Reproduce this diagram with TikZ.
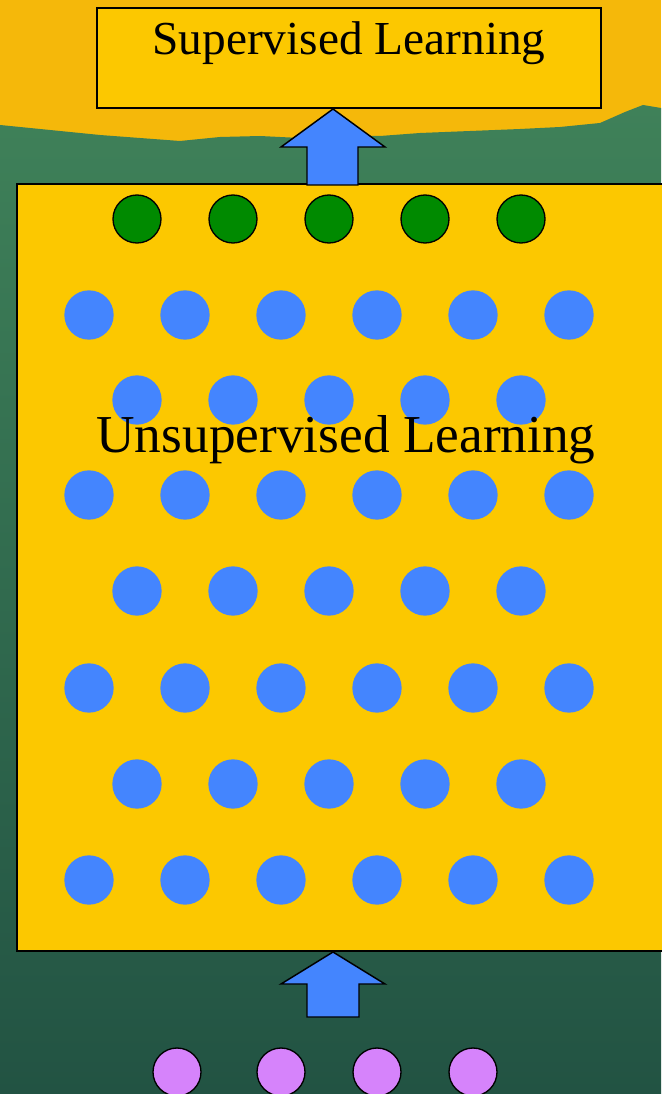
\documentclass[tikz,border=0pt]{standalone}
\usepackage{fontspec}
\setmainfont{Liberation Serif}
\usetikzlibrary{positioning}
\definecolor{bgorange}{HTML}{F5B80A}
\definecolor{bgtop}{HTML}{3F8159}
\definecolor{bgbottom}{HTML}{225343}
\definecolor{boxyellow}{HTML}{FCC800}
\definecolor{dotblue}{HTML}{4485FE}
\definecolor{dotgreen}{HTML}{008A00}
\definecolor{dotpurple}{HTML}{D683FB}
\tikzset{
  layerbox/.style={draw=black, line width=1.1pt, fill=boxyellow, inner sep=0pt},
  hiddendot/.style={circle, fill=dotblue, minimum size=37pt, inner sep=0pt},
  outdot/.style={circle, draw=black, line width=1pt, fill=dotgreen, minimum size=36pt, inner sep=0pt},
  indot/.style={outdot, fill=dotpurple},
  fatarrow/.style={draw=black, line width=1.1pt, fill=dotblue, line join=miter}
}
\begin{document}
\begin{tikzpicture}[x=0.75pt,y=-0.75pt]
\useasboundingbox (0,0) rectangle (661,1094);
% background
\fill[bgorange] (0,0) rectangle (661,160);
\shade[top color=bgtop, bottom color=bgbottom] (0,125) -- (30,128) -- (60,131) -- (100,135) -- (140,138) -- (180,141)
  -- (220,137) -- (260,136) -- (300,138) -- (340,135) -- (380,136) -- (420,133) -- (470,131) -- (520,129)
  -- (560,127) -- (600,123) -- (625,112) -- (643,105) -- (661,108) -- (661,1094) -- (0,1094) -- cycle;
% supervised layer
\node[layerbox, minimum width=378pt, minimum height=75pt] (sup) at (349,58) {};
\node[anchor=base, font=\fontsize{35.5}{40}\selectfont] (suptext) at (349,55) {Supervised Learning};
% unsupervised layer
\node[layerbox, minimum width=512pt, minimum height=575pt] (unsup) at (358.5,567.5) {};
\coordinate (uptip) at (333,109);
\draw[fatarrow] (uptip) -- ++(52,38) -- ++(-27,0) -- ++(0,38) -- ++(-51,0) -- ++(0,-38) -- ++(-26,0) -- cycle;
\coordinate (lowtip) at (333,952);
\draw[fatarrow] (lowtip) -- ++(52,32) -- ++(-26,0) -- ++(0,33) -- ++(-52,0) -- ++(0,-33) -- ++(-26,0) -- cycle;
% output units
\foreach \i in {1,...,5}
  \node[outdot] (o\i) at ({41+96*\i},219) {};
% hidden units
\foreach \y/\r in {315/1,495/3,688/5,880/7}
  \foreach \i in {1,...,6}
    \node[hiddendot] (h\r-\i) at ({-7+96*\i},\y) {};
\foreach \y/\r in {400/2,591/4,784/6}
  \foreach \i in {1,...,5}
    \node[hiddendot] (h\r-\i) at ({41+96*\i},\y) {};
\node[anchor=base, font=\fontsize{40}{44}\selectfont] (unsuptext) at (346,452) {Unsupervised Learning};
% input units
\node[indot] (in1) at (177,1072) {};
\node[indot] (in2) at (281,1072) {};
\node[indot] (in3) at (377,1072) {};
\node[indot] (in4) at (473,1072) {};
\end{tikzpicture}
\end{document}
